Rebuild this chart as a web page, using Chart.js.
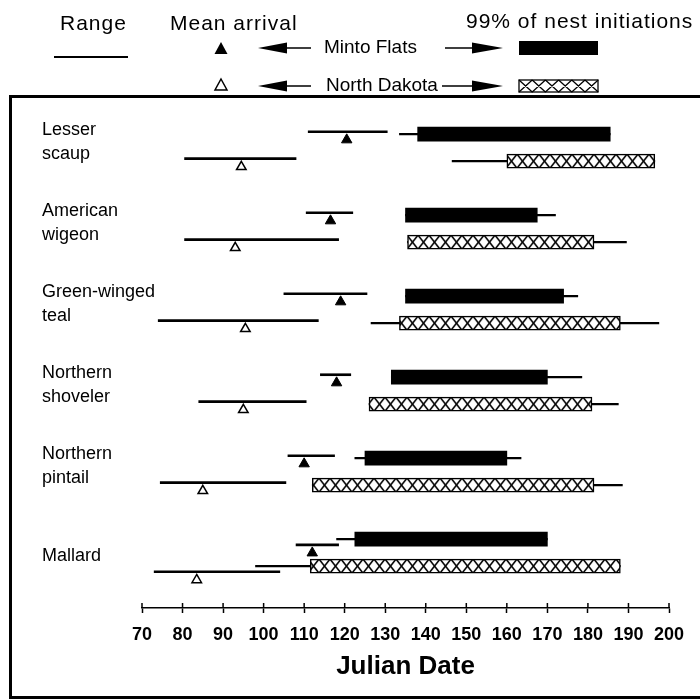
<!DOCTYPE html>
<html>
<head>
<meta charset="utf-8">
<script src="https://cdn.jsdelivr.net/npm/chart.js@4"></script>
<style>
  body { margin: 0; background: #fff; }
</style>
</head>
<body>
<canvas id="arrivalChart" width="700" height="700"></canvas>
<script>
// species, top to bottom, and how their names are split on the page
const species = ["Lesser scaup", "American wigeon", "Green-winged teal", "Northern shoveler", "Northern pintail", "Mallard"];
const speciesLines = [["Lesser", "scaup"], ["American", "wigeon"], ["Green-winged", "teal"], ["Northern", "shoveler"], ["Northern", "pintail"], ["Mallard"]];

// spring arrival (julian date): range and mean
const mintoArrivalStart = [111, 110.5, 105, 114, 106, 108];
const mintoArrivalEnd = [130.5, 122, 125.5, 121.5, 117.5, 118.5];
const mintoArrivalMean = [120.5, 116.5, 119, 118, 110, 112];
const ndArrivalStart = [80.5, 80.5, 74, 84, 74.5, 73];
const ndArrivalEnd = [108, 118.5, 113.5, 110.5, 105.5, 104];
const ndArrivalMean = [94.5, 93, 95.5, 95, 85, 83.5];

// nest initiation: full range and the 99% block
const mintoNestStart = [133.5, 135, 135, 131.5, 122.5, 118];
const mintoNestEnd = [185.5, 172, 177.5, 178.5, 163.5, 170];
const minto99Start = [138, 135, 135, 131.5, 125, 122.5];
const minto99End = [185.5, 167.5, 174, 170, 160, 170];
const ndNestStart = [146.5, 135.5, 126.5, 126, 112, 98];
const ndNestEnd = [196.5, 189.5, 197.5, 187.5, 188.5, 188];
const nd99Start = [160, 135.5, 133.5, 126, 112, 111.5];
const nd99End = [196.5, 181.5, 188, 181, 181.5, 188];

// x axis tick labels
const dateTicks = [70, 80, 90, 100, 110, 120, 130, 140, 150, 160, 170, 180, 190, 200];

const fontFamily = '"Liberation Sans", Arial, sans-serif';
const ndOffset = 0.333;

// arrival line sits a bit lower when it runs into the nest range line
let arrivalRow = function (i, offset, ends, nestStarts) {
  return i + offset + (ends[i] > nestStarts[i] ? 0.07 : -0.03);
};

let rangeBars = function (starts, ends, rowFn) {
  return starts.map((s, i) => ({ x: [s, ends[i]], y: rowFn(i) }));
};

// tile for the cross-hatched North Dakota blocks
const hatchTile = (function () {
  const c = document.createElement("canvas");
  c.width = 11;
  c.height = 14;
  const t = c.getContext("2d");
  t.fillStyle = "#fff";
  t.fillRect(0, 0, 11, 14);
  t.strokeStyle = "#000";
  t.lineWidth = 1.6;
  t.beginPath();
  t.moveTo(0, 0); t.lineTo(11, 14);
  t.moveTo(11, 0); t.lineTo(0, 14);
  t.stroke();
  return c;
})();

let hatchFill = function (context) {
  const chart = context.chart;
  const pattern = chart.ctx.createPattern(hatchTile, "repeat");
  if (context.raw && chart.scales.y) {
    const top = chart.scales.y.getPixelForValue(context.raw.y) - 7;
    pattern.setTransform(new DOMMatrix([1, 0, 0, 1, 0, top]));
  }
  return pattern;
};

const mintoArrivalRows = species.map((s, i) => arrivalRow(i, 0, mintoArrivalEnd, mintoNestStart));
const ndArrivalRows = species.map((s, i) => arrivalRow(i, ndOffset, ndArrivalEnd, ndNestStart));

const barDefaults = { type: "bar", indexAxis: "y", grouped: false, borderSkipped: false };

const data = {
  datasets: [
    Object.assign({}, barDefaults, {
      label: "Minto Flats arrival range",
      data: rangeBars(mintoArrivalStart, mintoArrivalEnd, i => mintoArrivalRows[i]),
      backgroundColor: "#000", barThickness: 2, order: 3,
    }),
    Object.assign({}, barDefaults, {
      label: "North Dakota arrival range",
      data: rangeBars(ndArrivalStart, ndArrivalEnd, i => ndArrivalRows[i]),
      backgroundColor: "#000", barThickness: 2, order: 3,
    }),
    Object.assign({}, barDefaults, {
      label: "Minto Flats nest range",
      data: rangeBars(mintoNestStart, mintoNestEnd, i => i),
      backgroundColor: "#000", barThickness: 1.5, order: 3,
    }),
    Object.assign({}, barDefaults, {
      label: "North Dakota nest range",
      data: rangeBars(ndNestStart, ndNestEnd, i => i + ndOffset),
      backgroundColor: "#000", barThickness: 1.5, order: 3,
    }),
    Object.assign({}, barDefaults, {
      label: "Minto Flats 99% of nest initiations",
      data: rangeBars(minto99Start, minto99End, i => i),
      backgroundColor: "#000", barThickness: 14, order: 2,
    }),
    Object.assign({}, barDefaults, {
      label: "North Dakota 99% of nest initiations",
      data: rangeBars(nd99Start, nd99End, i => i + ndOffset),
      backgroundColor: hatchFill, borderColor: "#000", borderWidth: 1.5,
      barThickness: 14, order: 2,
    }),
    {
      type: "scatter",
      label: "Minto Flats mean arrival",
      data: mintoArrivalMean.map((m, i) => ({ x: m, y: mintoArrivalRows[i] + 0.1 })),
      pointStyle: "triangle", pointRadius: 6, backgroundColor: "#000",
      borderColor: "#000", borderWidth: 1, order: 1,
    },
    {
      type: "scatter",
      label: "North Dakota mean arrival",
      data: ndArrivalMean.map((m, i) => ({ x: m, y: ndArrivalRows[i] + 0.1 })),
      pointStyle: "triangle", pointRadius: 5.5, backgroundColor: "#fff",
      borderColor: "#000", borderWidth: 1.5, order: 1,
    },
  ],
};

// species names, frame, upper half of tick marks and the legend
const decorPlugin = {
  id: "decor",
  afterDraw(chart) {
    const ctx = chart.ctx;
    const yScale = chart.scales.y;
    const xScale = chart.scales.x;
    ctx.save();
    ctx.fillStyle = "#000";
    ctx.strokeStyle = "#000";

    // species labels
    ctx.font = "18px " + fontFamily;
    ctx.textAlign = "left";
    ctx.textBaseline = "middle";
    speciesLines.forEach((lines, i) => {
      const yM = yScale.getPixelForValue(i);
      const yN = yScale.getPixelForValue(i + ndOffset);
      if (lines.length === 1) {
        ctx.fillText(lines[0], 42, (yM + yN) / 2 + 3);
      } else {
        ctx.fillText(lines[0], 42, yM - 4);
        ctx.fillText(lines[1], 42, yM + 20);
      }
    });

    // tick marks cross the axis line
    ctx.lineWidth = 1.5;
    ctx.beginPath();
    dateTicks.forEach(v => {
      const px = xScale.getPixelForValue(v);
      ctx.moveTo(px, xScale.top - 5);
      ctx.lineTo(px, xScale.top);
    });
    ctx.stroke();

    // frame
    ctx.lineWidth = 3;
    ctx.beginPath();
    ctx.moveTo(700, 96.5); ctx.lineTo(10.5, 96.5);
    ctx.lineTo(10.5, 697.5); ctx.lineTo(700, 697.5);
    ctx.stroke();

    // legend headers
    ctx.font = "21px " + fontFamily;
    ctx.letterSpacing = "1px";
    ctx.fillText("Range", 60, 24);
    ctx.fillText("Mean arrival", 170, 24);
    ctx.fillText("99% of nest initiations", 466, 22);
    ctx.letterSpacing = "0px";

    ctx.lineWidth = 2;
    ctx.beginPath();
    ctx.moveTo(54, 57); ctx.lineTo(128, 57);
    ctx.stroke();

    // legend triangles
    ctx.beginPath();
    ctx.moveTo(221, 42); ctx.lineTo(227.5, 54); ctx.lineTo(214.5, 54);
    ctx.closePath();
    ctx.fill();
    ctx.lineWidth = 1.5;
    ctx.beginPath();
    ctx.moveTo(221, 79); ctx.lineTo(227, 90); ctx.lineTo(215, 90);
    ctx.closePath();
    ctx.stroke();

    // arrows and place names
    [[48, "Minto Flats", 324, 445], [86, "North Dakota", 326, 442]].forEach(row => {
      const y = row[0];
      ctx.beginPath();
      ctx.moveTo(258, y); ctx.lineTo(287, y - 5.5); ctx.lineTo(287, y + 5.5);
      ctx.closePath();
      ctx.fill();
      ctx.beginPath();
      ctx.moveTo(287, y); ctx.lineTo(311, y);
      ctx.moveTo(row[3], y); ctx.lineTo(473, y);
      ctx.stroke();
      ctx.beginPath();
      ctx.moveTo(503, y); ctx.lineTo(472, y - 5.5); ctx.lineTo(472, y + 5.5);
      ctx.closePath();
      ctx.fill();
      ctx.font = "19px " + fontFamily;
      ctx.fillText(row[1], row[2], y);
    });

    // legend blocks
    ctx.fillRect(519, 41, 79, 14);
    ctx.fillStyle = "#fff";
    ctx.fillRect(519, 80, 79, 12);
    ctx.lineWidth = 1.3;
    ctx.strokeRect(519, 80, 79, 12);
    ctx.beginPath();
    for (let k = 0; k < 6; k++) {
      const x0 = 519 + k * 13.2;
      ctx.moveTo(x0, 80); ctx.lineTo(x0 + 13.2, 92);
      ctx.moveTo(x0 + 13.2, 80); ctx.lineTo(x0, 92);
    }
    ctx.stroke();
    ctx.restore();
  },
};

const config = {
  type: "bar",
  data,
  options: {
    responsive: false,
    animation: false,
    indexAxis: "y",
    layout: { padding: { left: 142, right: 31, top: 105, bottom: 14 } },
    plugins: {
      legend: { display: false },
      tooltip: { enabled: false },
    },
    scales: {
      x: {
        type: "linear",
        min: 70,
        max: 200,
        afterBuildTicks: scale => {
          scale.ticks = dateTicks.map(v => ({ value: v }));
        },
        afterFit: scale => {
          scale.height = 78;
        },
        border: { display: true, color: "#000", width: 1.5 },
        grid: { drawOnChartArea: false, drawTicks: true, tickLength: 5, color: "#000", tickWidth: 1.5 },
        ticks: {
          padding: 11,
          color: "#000",
          maxRotation: 0,
          autoSkip: false,
          font: { family: '"Liberation Sans Narrow", "Liberation Sans", Arial', size: 18, weight: "bold" },
        },
        title: {
          display: true,
          text: "Julian Date",
          color: "#000",
          padding: { top: 3, bottom: 4 },
          font: { family: fontFamily, size: 26, weight: "bold" },
        },
      },
      y: {
        type: "linear",
        reverse: true,
        offset: false,
        min: -0.36,
        max: 5.85,
        display: false,
      },
    },
  },
  plugins: [decorPlugin],
};

let arrivalChart = new Chart(document.getElementById("arrivalChart"), config);
</script>
</body>
</html>
